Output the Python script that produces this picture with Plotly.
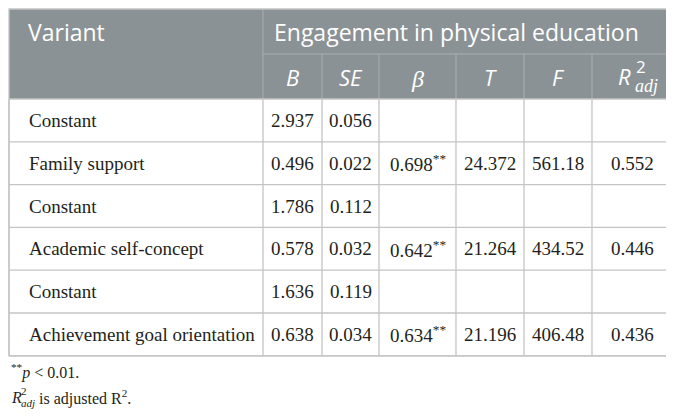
import plotly.graph_objects as go

# table content
variants = ["Constant", "Family support", "Constant", "Academic self-concept",
            "Constant", "Achievement goal orientation"]
b_vals = ["2.937", "0.496", "1.786", "0.578", "1.636", "0.638"]
se_vals = ["0.056", "0.022", "0.112", "0.032", "0.119", "0.034"]
beta_vals = ["", "0.698**", "", "0.642**", "", "0.634**"]
t_vals = ["", "24.372", "", "21.264", "", "21.196"]
f_vals = ["", "561.18", "", "434.52", "", "406.48"]
r2_vals = ["", "0.552", "", "0.446", "", "0.436"]

group_title = "Engagement in physical education"
first_col_title = "Variant"

# geometry in reference pixels; the page body has an 8px margin,
# so the view starts a few pixels before the table edge
W, H = 674, 416
PAD = 8
X0, Y0 = 4, 4
col_edges = [5, 259, 318, 375, 452, 520, 588, 668]
top, head1, head2 = 5, 50, 95
row_h = 42.8
n_rows = len(variants)
bottom = head2 + row_h * n_rows

HEAD_BG = "#8b9295"
HEAD_LINE = "#a9aeb0"
GRID = "#c4c4c4"
TXT = "#231f20"
SANS = "Open Sans"
SERIF = "Liberation Serif"

fig = go.Figure()
shapes = []
ann = []

# header background
shapes.append(dict(type="rect", x0=col_edges[0], x1=col_edges[-1], y0=top, y1=head2,
                   fillcolor=HEAD_BG, line=dict(width=0), layer="below"))
# header inner lines
shapes.append(dict(type="line", x0=col_edges[1], x1=col_edges[-1], y0=head1, y1=head1,
                   line=dict(color=HEAD_LINE, width=1)))
shapes.append(dict(type="line", x0=col_edges[1], x1=col_edges[1], y0=top, y1=head2,
                   line=dict(color=HEAD_LINE, width=1)))
for x in col_edges[2:-1]:
    shapes.append(dict(type="line", x0=x, x1=x, y0=head1, y1=head2,
                       line=dict(color=HEAD_LINE, width=1)))

# body grid
for i in range(n_rows + 1):
    y = head2 + row_h * i
    shapes.append(dict(type="line", x0=col_edges[0], x1=col_edges[-1], y0=y, y1=y,
                       line=dict(color=GRID, width=1.3)))
for x in col_edges:
    shapes.append(dict(type="line", x0=x, x1=x, y0=head2, y1=bottom,
                       line=dict(color=GRID, width=1.3)))
# outer border
shapes.append(dict(type="rect", x0=col_edges[0], x1=col_edges[-1], y0=top, y1=bottom,
                   line=dict(color=GRID, width=1.3)))

# header text
ann.append(dict(x=col_edges[0] + 17, y=(top + head1) / 2, text=first_col_title,
                xanchor="left", yanchor="middle", showarrow=False,
                font=dict(family=SANS, size=23, color="white")))
ann.append(dict(x=col_edges[1] + 9, y=(top + head1) / 2, text=group_title,
                xanchor="left", yanchor="middle", showarrow=False,
                font=dict(family=SANS, size=23, color="white")))
sub_heads = ["<i>B</i>", "<i>SE</i>", "", "<i>T</i>", "<i>F</i>", ""]
ymid2 = (head1 + head2) / 2
for j, t in enumerate(sub_heads):
    xc = (col_edges[j + 1] + col_edges[j + 2]) / 2
    if t:
        ann.append(dict(x=xc, y=ymid2, text=t, showarrow=False,
                        font=dict(family=SANS, size=22, color="white")))
# beta in serif italic
xb = (col_edges[3] + col_edges[4]) / 2
ann.append(dict(x=xb, y=ymid2 + 2, text="<i>β</i>", showarrow=False,
                font=dict(family=SERIF, size=24, color="white")))
# R2 adj
xr = (col_edges[6] + col_edges[7]) / 2
ann.append(dict(x=xr - 8, y=ymid2 - 1, text="<i>R</i>", showarrow=False,
                font=dict(family=SANS, size=22, color="white")))
ann.append(dict(x=xr + 9, y=ymid2 - 10, text="2", showarrow=False,
                font=dict(family=SANS, size=17, color="white")))
ann.append(dict(x=xr + 14, y=ymid2 + 9, text="<i>adj</i>", showarrow=False,
                font=dict(family=SERIF, size=18, color="white")))

# body text
cols = [b_vals, se_vals, beta_vals, t_vals, f_vals, r2_vals]
for i in range(n_rows):
    yc = head2 + row_h * (i + 0.5)
    ann.append(dict(x=col_edges[0] + 18, y=yc, text=variants[i], xanchor="left",
                    showarrow=False, font=dict(family=SERIF, size=19, color=TXT)))
    for j, col in enumerate(cols):
        v = col[i]
        if not v:
            continue
        if v.endswith("**"):
            v = v[:-2] + "<sup>**</sup>"
        xc = (col_edges[j + 1] + col_edges[j + 2]) / 2
        ann.append(dict(x=xc, y=yc, text=v, showarrow=False,
                        font=dict(family=SERIF, size=19, color=TXT)))

# footnotes
ann.append(dict(x=5, y=367, text="<sup>**</sup><i>p</i> &lt; 0.01.", xanchor="left",
                showarrow=False, font=dict(family=SERIF, size=16, color=TXT)))
ann.append(dict(x=5, y=393, text="<i>R</i>", xanchor="left",
                showarrow=False, font=dict(family=SERIF, size=16, color=TXT)))
ann.append(dict(x=15, y=387, text="2", xanchor="left",
                showarrow=False, font=dict(family=SERIF, size=11, color=TXT)))
ann.append(dict(x=15, y=399, text="<i>adj</i>", xanchor="left",
                showarrow=False, font=dict(family=SERIF, size=11, color=TXT)))
ann.append(dict(x=33, y=393, text="is adjusted R<sup>2</sup>.", xanchor="left",
                showarrow=False, font=dict(family=SERIF, size=16, color=TXT)))

fig.update_layout(
    width=W - PAD, height=H - PAD,
    margin=dict(l=0, r=0, t=0, b=0),
    paper_bgcolor="white", plot_bgcolor="white",
    xaxis=dict(range=[X0, X0 + W - PAD], visible=False, fixedrange=True),
    yaxis=dict(range=[Y0 + H - PAD, Y0], visible=False, fixedrange=True),
    shapes=shapes, annotations=ann, showlegend=False,
)

fig.write_html("out.html")
